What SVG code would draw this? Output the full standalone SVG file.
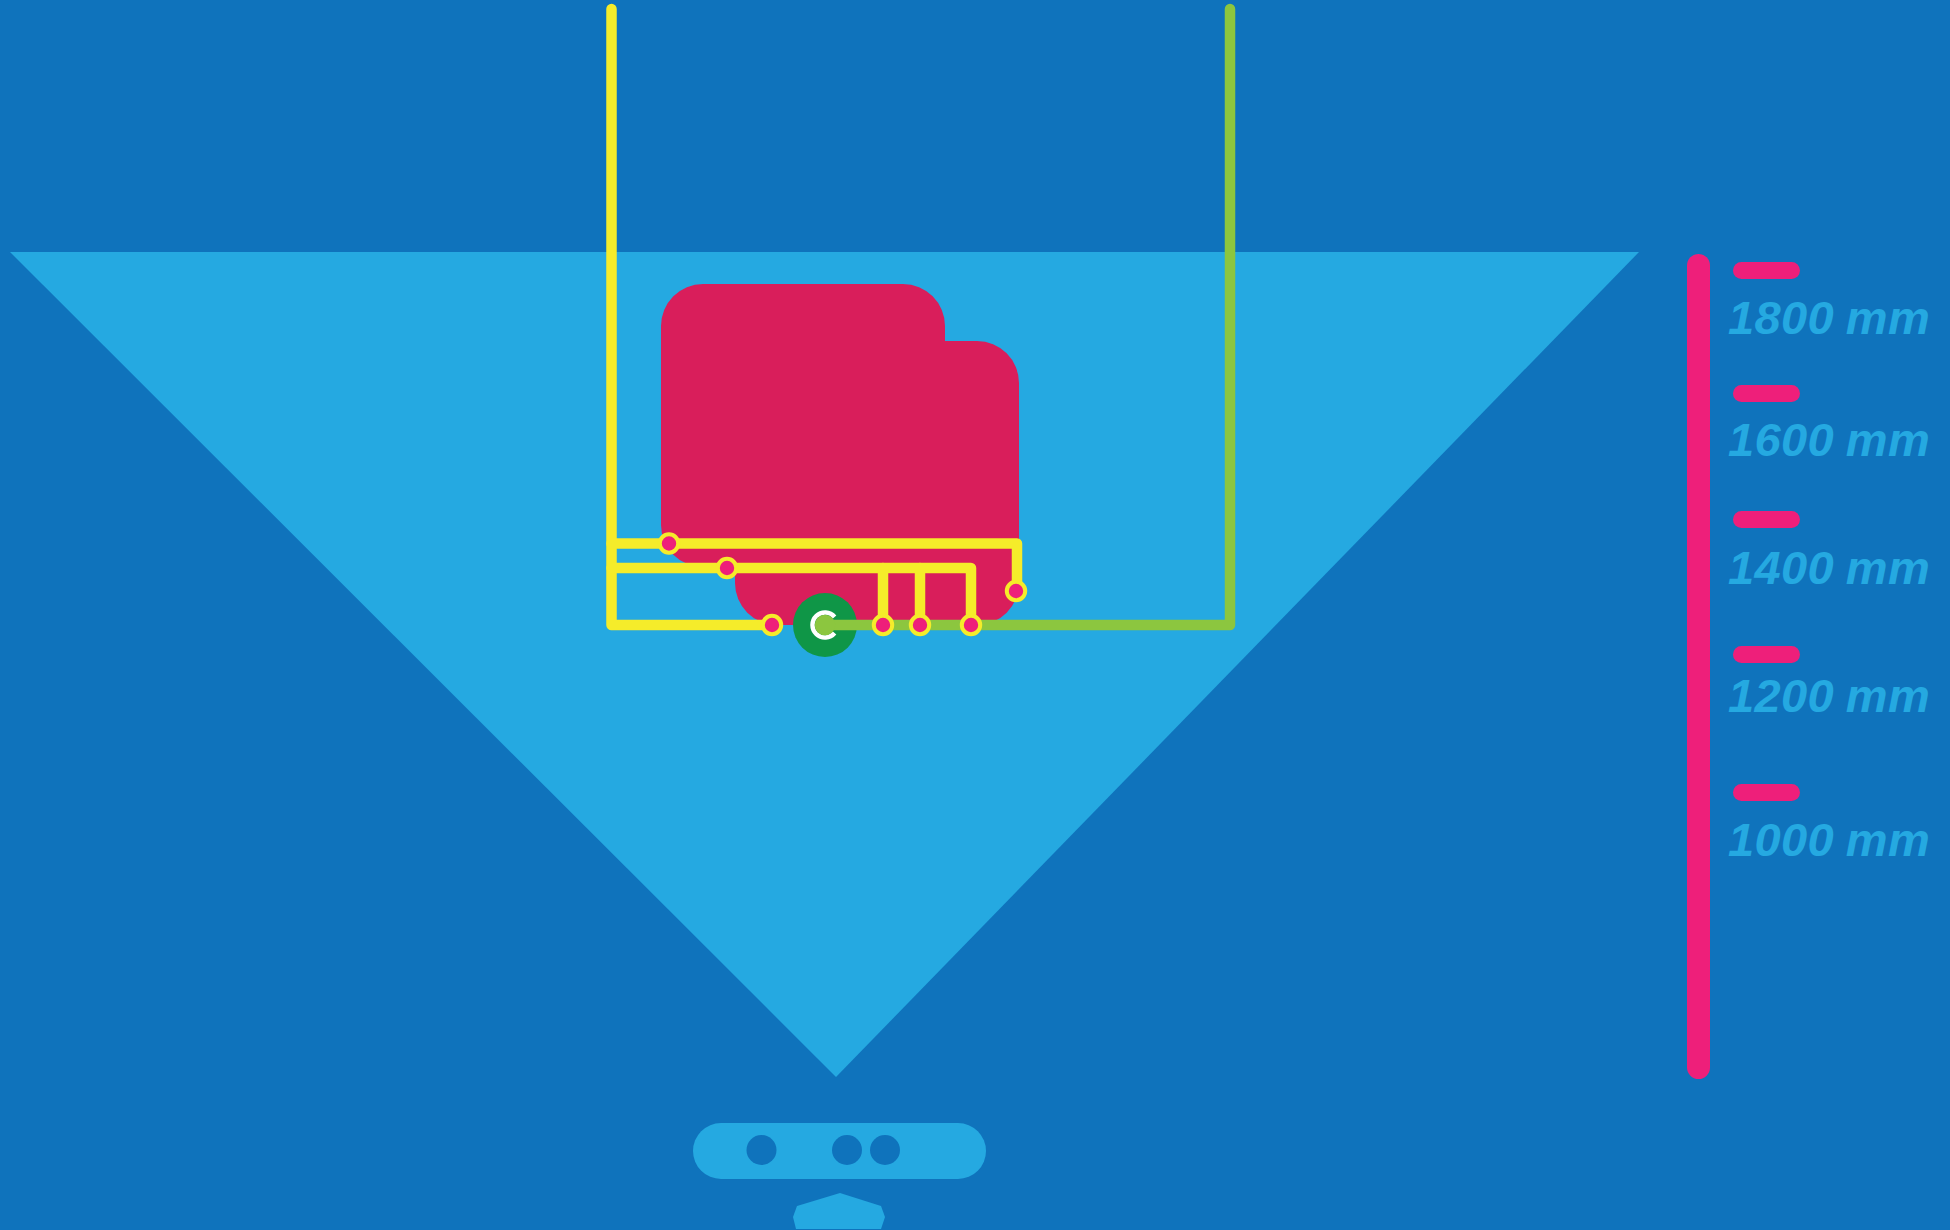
<svg xmlns="http://www.w3.org/2000/svg" width="1950" height="1230" viewBox="0 0 1950 1230">
<style>
.ln{fill:none;stroke-width:10.5;stroke-linecap:round;stroke-linejoin:round}
.y{stroke:#f5ec2a}.g{stroke:#8cc63f}
.dot{fill:#ee1f7a;stroke:#f5ec2a;stroke-width:4}
.tick{fill:#ee1f7a}
.lbl{font-family:"Liberation Sans",Arial,sans-serif;font-style:italic;font-weight:700;font-size:47px;letter-spacing:.35px;word-spacing:-1.5px;fill:#25a9e1}
.hole{fill:#0f73bc}
</style>
<rect width="1950" height="1230" fill="#0f73bc"/>
<polygon id="cone" points="10,252 1639,252 836,1077" fill="#25a9e1"/>
<path id="body" fill="#d91e5b" d="M703,284H903A42,42 0 0 1 945,326V341H977A42,42 0 0 1 1019,383V583A42,42 0 0 1 977,625H777A42,42 0 0 1 735,583V567H703A42,42 0 0 1 661,525V326A42,42 0 0 1 703,284Z"/>
<g id="sensor"><circle cx="825" cy="625" r="32" fill="#0f9647"/></g>
<g id="connectors">
<path class="ln g" d="M825,625H1230V9"/>
<path class="ln y" d="M611.500,9V625H772"/>
<path class="ln y" d="M611.500,543.500H1017V591"/>
<path class="ln y" d="M611.500,568H971V625"/>
<path class="ln y" d="M883,568V625M920,568V625"/>
</g>
<g id="sensor-c">
<path d="M834.600,617A12.500,12.500 0 1 0 834.600,633" fill="none" stroke="#fff" stroke-width="4.500"/>
<circle cx="825" cy="625" r="10.300" fill="#8cc63f"/>
</g>
<g id="joints">
<circle class="dot" cx="669" cy="543.500" r="9.200"/>
<circle class="dot" cx="727" cy="568" r="9.200"/>
<circle class="dot" cx="772" cy="625" r="9.200"/>
<circle class="dot" cx="883" cy="625" r="9.200"/>
<circle class="dot" cx="920" cy="625" r="9.200"/>
<circle class="dot" cx="971" cy="625" r="9.200"/>
<circle class="dot" cx="1016" cy="591" r="9.200"/>
</g>
<g id="camera">
<rect x="693" y="1123" width="293" height="56" rx="28" fill="#25a9e1"/>
<circle class="hole" cx="761.500" cy="1150" r="15"/>
<circle class="hole" cx="847" cy="1150" r="15"/>
<circle class="hole" cx="885" cy="1150" r="15"/>
</g>
<path id="stand" fill="#25a9e1" d="M840,1193L881,1206L885,1217L881,1229H796L793,1217L797,1206Z"/>
<g id="scale">
<rect x="1687" y="254" width="23" height="825" rx="11.500" class="tick"/>
<rect x="1733" y="262" width="67" height="17" rx="8.500" class="tick"/>
<rect x="1733" y="385" width="67" height="17" rx="8.500" class="tick"/>
<rect x="1733" y="511" width="67" height="17" rx="8.500" class="tick"/>
<rect x="1733" y="646" width="67" height="17" rx="8.500" class="tick"/>
<rect x="1733" y="784" width="67" height="17" rx="8.500" class="tick"/>
<text class="lbl" x="1728" y="334">1800 mm</text>
<text class="lbl" x="1728" y="456">1600 mm</text>
<text class="lbl" x="1728" y="584">1400 mm</text>
<text class="lbl" x="1728" y="712">1200 mm</text>
<text class="lbl" x="1728" y="856">1000 mm</text>
</g>
</svg>
